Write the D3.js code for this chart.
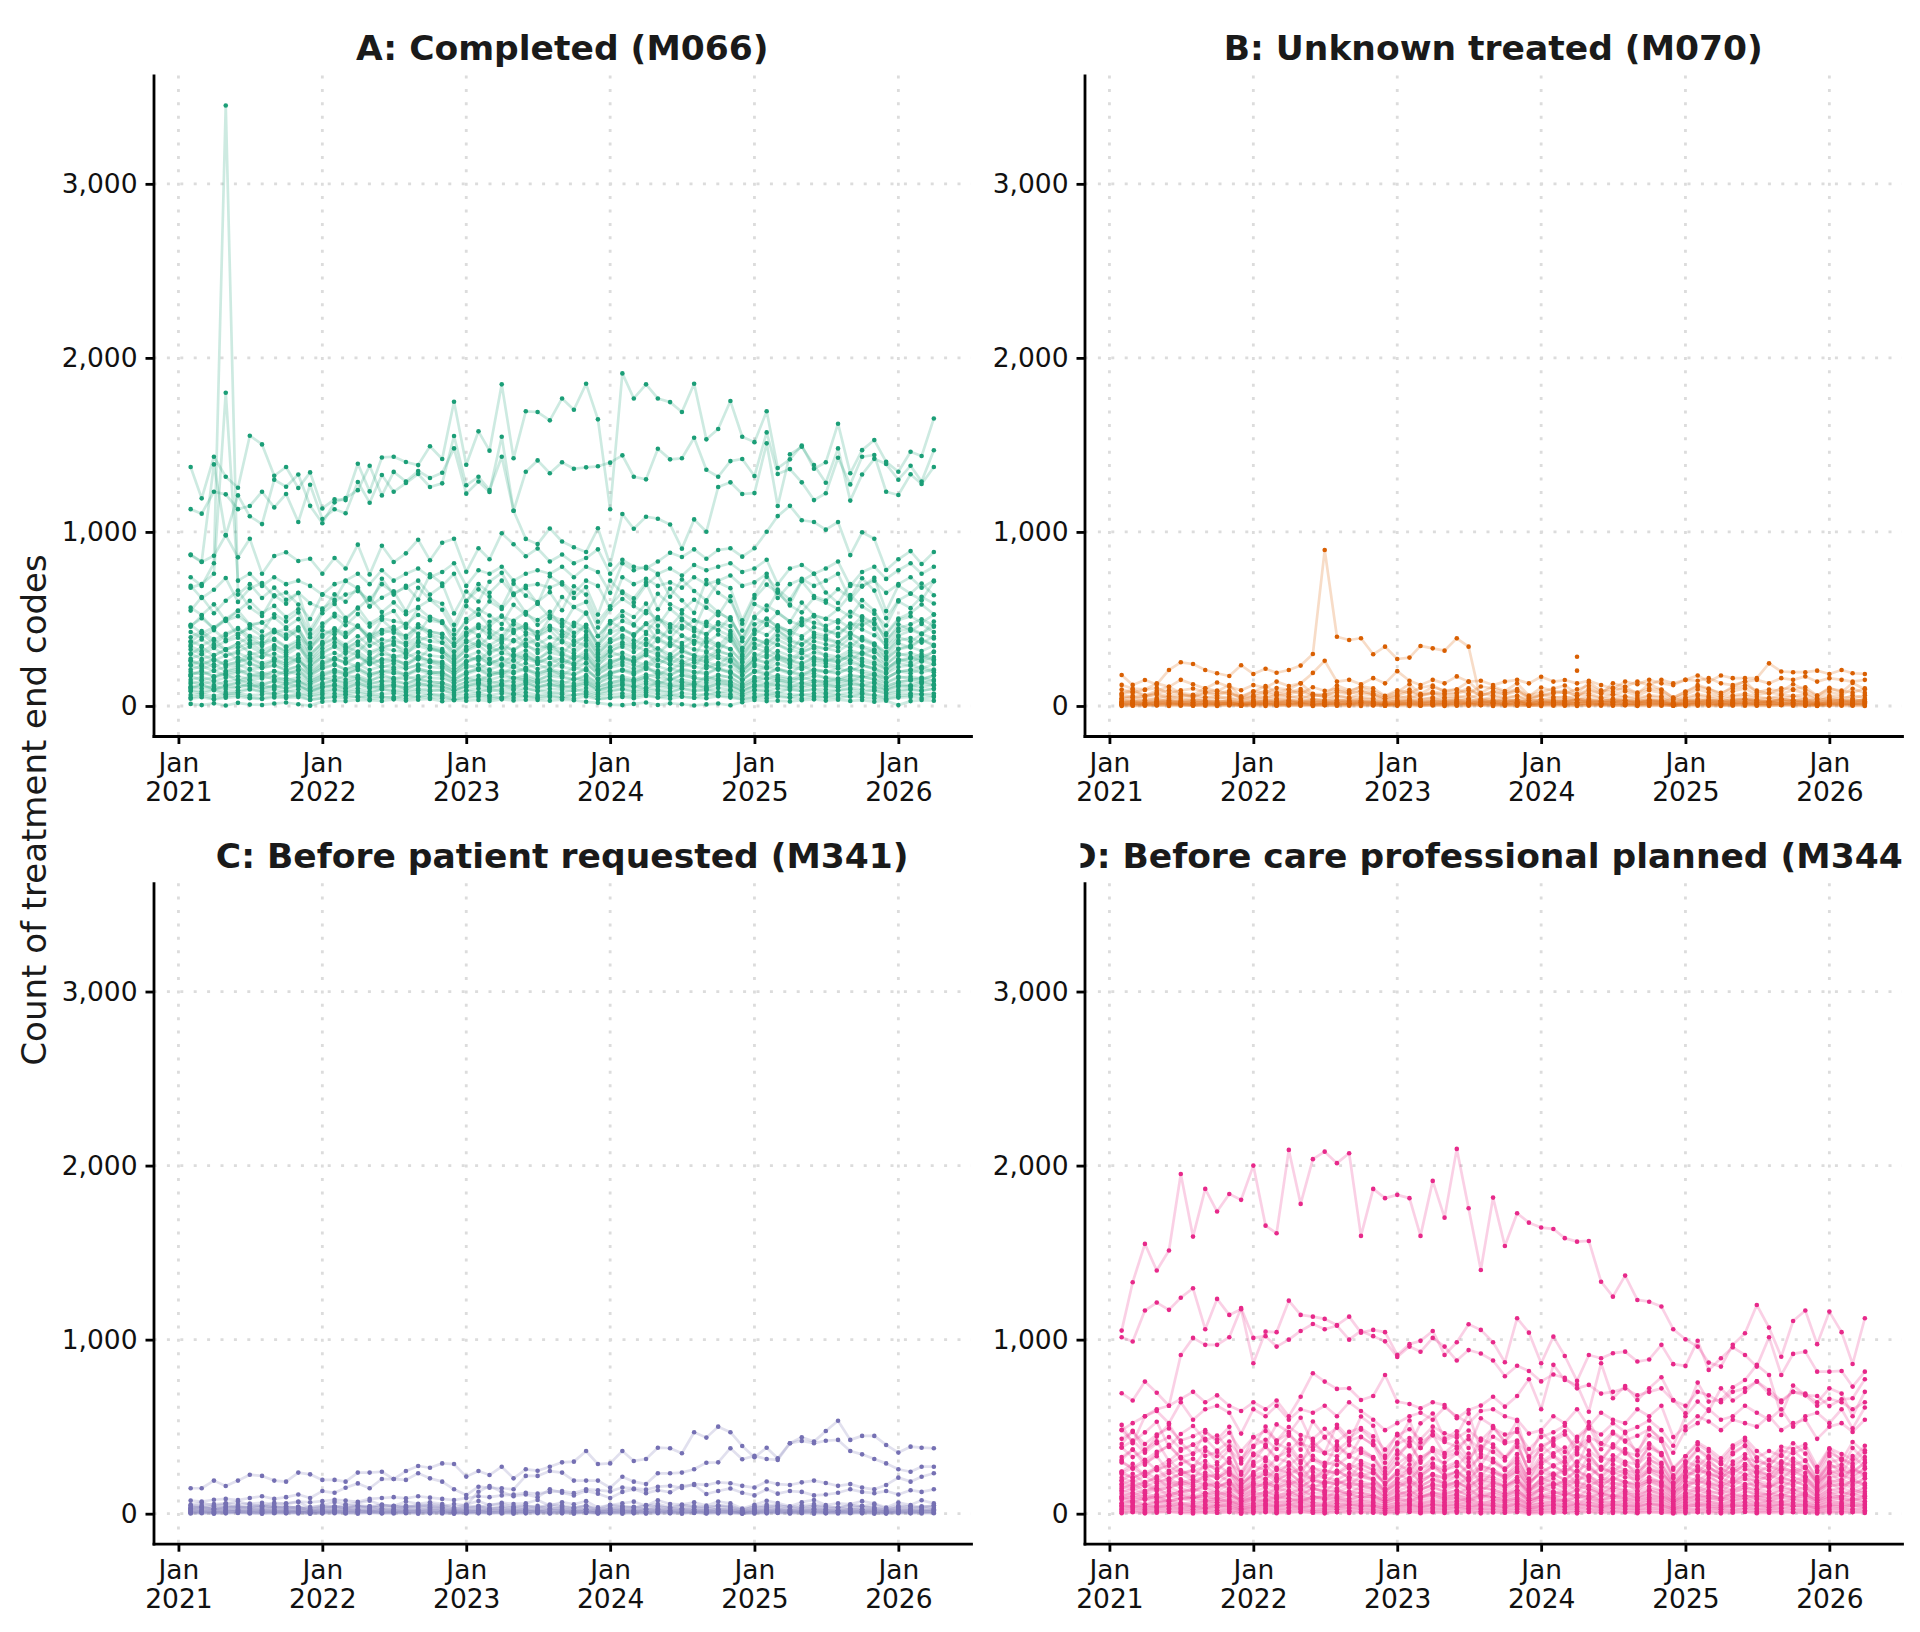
<!DOCTYPE html>
<html>
<head>
<meta charset="utf-8">
<script src="https://cdn.jsdelivr.net/npm/d3@7"></script>
<style>
html,body{margin:0;padding:0;background:#fff;}
svg{display:block;}
</style>
</head>
<body>
<svg id="chart" width="1920" height="1632"></svg>
<script>
// ---------------- categories / ticks ----------------
const months = d3.utcMonths(new Date(Date.UTC(2021,1,1)), new Date(Date.UTC(2026,4,1))); // Feb 2021 .. Apr 2026
const yearTicks = [2021,2022,2023,2024,2025,2026];
const yTickValues = [0,1000,2000,3000];
const panelTitles = {A:"A: Completed (M066)", B:"B: Unknown treated (M070)", C:"C: Before patient requested (M341)", D:"D: Before care professional planned (M344)"};
const yAxisTitle = "Count of treatment end codes";

// ---------------- Panel A : Completed (M066) ----------------
const aTop1 = [1373,1193,1432,1317,1254,1553,1503,1323,1373,1252,1342,1135,1187,1183,1392,1233,1428,1432,1402,1384,1492,1419,1748,1386,1578,1467,1848,1423,1693,1689,1641,1767,1702,1851,1647,1130,1911,1767,1848,1767,1746,1689,1851,1532,1591,1752,1547,1516,1693,1367,1417,1497,1363,1400,1622,1337,1470,1528,1403,1346,1461,1436,1652];
const aTop2 = [1131,1105,1231,1216,1131,1149,1231,1141,1218,1057,1271,1074,1130,1107,1287,1168,1327,1231,1281,1333,1258,1279,1551,1268,1317,1241,1432,1122,1346,1411,1337,1400,1363,1371,1377,1398,1440,1317,1302,1478,1417,1423,1541,1357,1317,1407,1419,1321,1572,1333,1361,1285,1183,1222,1426,1273,1432,1442,1231,1212,1331,1275,1373];
const aTop3 = [870,830,1388,980,1210,1090,1045,1300,1260,1330,1150,1050,1170,1195,1240,1380,1210,1345,1290,1350,1310,1340,1480,1220,1290,1230,1547,1122,960,930,1020,945,912,885,1021,812,1103,1018,1087,1076,1043,904,1072,1001,1258,1285,1218,1223,1509,1149,1446,1489,1384,1283,1480,1180,1330,1420,1390,1300,1380,1290,1469];
const aMid1 = [867,827,863,982,854,961,760,862,883,833,846,760,850,790,927,756,921,827,877,955,837,938,961,771,906,843,992,929,860,905,830,870,820,850,900,760,840,800,790,830,880,856,900,846,896,906,858,906,1001,1091,1150,1067,1057,1013,1057,867,998,961,781,843,890,816,885];
const aSpike = [740,690,820,3450,640,700,620,680,610,650,590,560,600,640,660,610,700,650,680,720,640,690,760,600,700,650,720,640,690,700,680,710,650,720,690,560,740,700,730,690,710,680,740,700,720,750,690,710,760,620,700,730,690,720,760,610,690,720,650,700,740,680,720];
const aHigh = [680,700,760,1800,720,760,690,740,700,720,690,640,700,720,760,700,780,720,760,790,740,770,820,690,780,760,800,720,760,780,760,800,740,800,770,650,820,780,800,760,790,750,810,780,800,820,770,790,840,700,790,810,760,790,830,690,770,800,730,780,820,760,800];
const aM0 = [12,5,15,3,18,8,6,14,20,10,2,25,30,28,35,33,29,38,31,36,40,27,33,30,35,28,38,32,36,34,30,37,33,24,18,8,5,12,20,6,15,10,3,9,14,4,22,35,28,30,26,33,38,31,36,29,34,25,30,5,28,34,30];
const aM1 = [48,60,42,55,63,50,45,58,52,61,35,47,56,64,50,59,54,46,62,51,66,57,38,52,63,55,46,66,58,52,60,49,64,68,41,50,58,53,66,49,62,56,47,70,61,55,40,52,65,59,50,67,57,53,63,55,69,60,43,56,62,68,58];
const aM2 = [85,72,90,66,78,95,81,70,88,76,60,74,92,80,86,71,97,83,77,90,85,93,64,88,79,95,84,72,99,87,80,76,92,85,66,82,96,79,91,86,74,100,83,95,78,89,62,90,84,77,98,86,93,75,88,95,80,91,70,81,94,86,99];
const aM3 = [100,121,95,112,108,130,98,118,104,126,82,109,117,99,132,113,105,124,96,128,119,111,88,116,130,108,121,97,135,112,126,104,118,133,90,107,125,114,102,138,119,110,128,100,131,122,87,113,128,119,106,134,115,124,108,129,120,136,93,118,110,127,121];
const aM4 = [128,145,120,139,152,131,118,147,136,142,102,125,148,138,160,129,143,151,126,157,140,133,108,137,155,142,129,162,147,136,150,124,158,145,112,131,150,143,165,128,157,139,122,169,148,137,109,142,160,151,133,166,145,139,156,141,170,152,115,138,149,163,144];
const aM5 = [171,150,163,182,145,168,175,152,160,141,122,158,149,176,165,139,181,157,170,150,188,173,130,161,146,175,190,158,166,143,184,171,152,168,128,177,159,145,170,186,153,179,162,148,174,166,121,156,183,164,150,176,187,160,145,172,168,181,134,170,158,149,176];
const aM6 = [178,204,170,196,213,181,166,200,188,209,140,176,206,190,219,184,200,211,175,217,196,187,148,193,215,201,182,224,203,191,209,176,220,205,154,184,210,197,228,178,216,195,171,232,208,193,152,199,222,209,186,230,202,194,215,199,234,212,162,195,207,226,204];
const aM7 = [232,214,240,201,225,248,219,236,210,228,170,219,241,208,230,256,222,244,216,233,251,227,180,236,215,247,229,262,220,241,209,257,234,246,185,228,253,236,219,265,240,226,251,232,214,259,178,241,226,270,238,221,255,244,229,262,235,218,190,247,231,258,242];
const aM8 = [236,262,225,255,280,241,220,268,250,274,186,232,270,252,288,243,264,279,230,286,259,247,196,255,283,265,240,296,268,252,276,232,290,271,204,242,278,260,300,236,285,257,226,306,274,255,200,262,294,275,246,303,266,256,284,263,309,280,214,257,273,298,269];
const aM9 = [301,270,292,322,262,297,310,274,286,255,218,281,266,314,295,249,320,280,303,268,331,308,232,288,262,312,335,283,296,257,326,305,271,299,230,315,284,260,304,330,274,318,289,265,310,296,215,279,325,292,268,314,332,285,259,306,300,322,238,303,282,266,313];
const aM10 = [298,338,288,326,358,306,280,344,318,351,236,298,346,324,369,310,337,357,294,367,332,317,252,326,362,340,307,379,343,323,353,297,371,346,261,310,355,333,384,301,364,328,289,391,351,326,256,335,376,352,315,388,341,327,363,336,396,359,273,328,349,381,344];
const aM11 = [372,345,385,322,360,398,352,379,337,366,272,351,386,334,369,410,356,392,347,374,402,364,288,378,345,396,367,420,353,387,336,412,375,394,297,366,405,378,351,425,385,362,402,372,343,415,285,386,362,432,381,354,409,391,367,420,377,349,304,396,370,413,388];
const aM12 = [368,418,356,404,443,378,345,426,392,434,292,367,428,400,456,383,416,441,363,454,410,392,312,403,448,420,380,469,424,399,436,367,459,428,323,383,439,412,474,372,450,405,357,483,434,403,316,414,465,435,389,480,421,404,449,415,490,443,337,405,432,471,425];
const aM13 = [466,418,452,499,406,460,480,424,443,395,338,435,412,487,457,386,496,434,469,415,513,477,360,446,406,484,519,438,459,398,505,473,420,463,356,488,440,403,471,511,425,493,448,411,481,459,333,432,503,453,415,487,515,442,401,474,465,499,369,469,437,412,485];
const aM14 = [455,518,442,501,548,468,428,527,486,537,362,455,530,496,565,474,515,546,450,562,508,486,386,499,555,520,471,581,525,494,541,455,569,530,401,474,544,511,588,461,558,502,443,599,538,499,392,513,577,539,482,594,522,501,556,514,608,549,418,502,535,583,527];
const aM15 = [565,523,584,489,546,604,534,575,511,556,413,533,586,507,560,622,540,595,527,568,610,553,437,574,524,601,557,638,536,588,510,626,569,598,451,556,615,574,533,645,584,550,610,565,521,630,433,586,550,656,578,538,621,594,557,638,572,530,462,601,562,627,589];
const aM16 = [548,626,533,605,663,566,517,636,588,649,438,550,641,599,682,573,622,659,543,679,613,587,466,603,670,628,568,702,634,597,654,550,688,640,484,573,657,618,710,556,674,607,535,724,650,602,473,620,697,651,583,717,631,606,671,621,734,663,505,607,646,704,636];
const aM17 = [690,620,668,735,598,676,706,630,652,583,500,641,610,718,674,571,731,640,690,612,756,703,532,658,600,714,765,646,677,588,745,698,620,683,525,720,649,595,695,754,628,727,661,607,709,677,492,638,742,669,612,719,760,652,592,700,686,736,545,692,645,608,716];
const aM18 = [258,231,266,240,249,272,236,255,228,262,190,244,270,251,226,279,247,262,238,271,255,241,197,252,276,244,268,231,285,259,246,273,238,280,203,249,271,257,236,288,262,245,277,251,233,292,199,265,247,283,258,239,276,262,250,290,254,240,208,268,249,283,260];
const aM19 = [180,196,168,187,201,176,190,171,199,183,142,174,192,181,206,170,195,188,177,204,186,198,150,183,207,175,196,188,211,172,200,186,178,209,155,188,203,180,213,191,176,207,194,183,215,189,148,196,181,214,192,177,208,198,186,219,190,176,156,200,188,213,194];
const aM20 = [342,315,351,326,337,362,320,348,309,355,262,330,364,340,312,375,335,352,322,366,345,327,271,340,371,330,362,315,382,349,333,368,322,377,279,337,366,346,318,388,353,331,373,340,316,392,270,357,334,381,348,323,372,355,338,390,343,324,283,361,336,382,351];
const aM21 = [108,124,99,117,130,111,121,104,128,115,88,112,126,116,135,106,124,119,110,133,118,127,92,117,136,110,125,119,140,108,129,118,112,138,95,120,133,114,141,122,111,136,124,116,143,120,90,125,115,142,122,112,137,127,118,146,121,111,97,129,119,141,124];
const aM22 = [395,430,378,415,448,402,385,438,410,452,330,398,441,420,462,405,436,455,392,470,428,415,345,420,468,440,402,485,446,425,460,398,478,450,355,432,488,462,425,505,470,445,492,460,436,510,372,470,498,455,430,502,478,460,492,448,515,476,380,445,470,498,462];
const aX1 = [42,50,38,47,53,44,40,49,46,51,36,44,50,47,55,41,48,52,43,54,49,45,39,46,53,42,50,47,56,44,51,48,43,55,38,46,52,44,57,49,42,53,47,45,56,48,37,50,45,54,47,43,52,49,46,55,50,44,39,48,52,46,51];
const aX2 = [63,70,58,68,74,61,66,72,60,69,55,64,71,67,76,62,69,73,60,75,68,64,57,66,74,61,72,67,78,63,71,68,62,76,56,66,73,64,79,69,61,74,67,65,77,68,54,70,64,75,67,62,73,69,66,77,71,63,57,68,73,66,72];
const aX3 = [92,84,97,80,90,99,86,94,82,96,72,88,98,85,102,83,95,91,87,100,93,89,76,90,101,84,97,92,104,86,99,93,85,103,74,91,98,88,105,94,83,101,92,89,104,93,71,95,88,102,92,86,99,94,90,104,96,87,75,93,97,90,99];
const aX4 = [110,101,114,97,108,118,103,112,99,115,86,105,117,102,121,100,113,109,104,119,111,106,91,108,120,101,116,110,124,103,118,111,102,123,89,109,117,105,126,112,100,121,110,106,124,111,85,114,105,122,110,103,118,112,107,124,115,104,90,111,116,107,119];
const aX5 = [138,126,143,121,135,148,129,140,124,145,108,132,147,128,152,125,142,137,130,150,139,133,114,136,151,127,146,138,156,129,148,139,128,155,111,137,147,132,158,141,126,152,138,133,156,140,107,143,132,153,138,129,148,141,134,156,144,131,113,139,146,135,150];
const aX6 = [150,166,145,162,171,153,158,168,147,164,130,156,170,152,175,149,165,160,155,172,162,157,135,158,174,150,169,161,178,153,171,162,151,177,132,159,170,154,181,163,149,175,160,156,179,162,128,166,155,176,160,152,171,164,157,179,167,154,134,161,169,157,173];
const aX7 = [196,181,203,175,192,208,184,199,178,205,155,189,207,183,213,180,201,195,186,210,197,190,162,193,211,182,205,196,217,185,209,198,183,216,158,194,207,188,219,200,180,213,197,190,217,199,152,202,188,214,197,184,209,200,191,217,204,187,161,198,206,192,210];
const aX8 = [210,229,202,224,236,213,219,232,205,228,180,216,235,211,241,207,229,222,215,238,224,218,187,220,240,209,234,223,246,212,237,225,210,245,183,221,236,214,249,227,207,242,224,217,247,225,177,230,215,243,222,211,237,228,218,247,232,214,186,224,235,218,240];
const aX9 = [262,241,270,233,256,277,246,266,238,274,206,252,276,244,284,240,268,260,248,280,263,254,215,257,282,243,274,262,290,247,279,265,245,289,211,259,276,251,292,267,240,284,263,254,290,265,202,270,251,286,263,246,279,267,255,290,272,250,215,265,275,256,281];
const aX10 = [272,297,262,290,305,276,284,300,266,295,233,280,304,273,312,268,297,288,278,309,290,282,242,285,311,271,303,289,319,275,307,291,272,318,237,286,305,278,322,294,268,313,290,281,320,292,229,298,279,315,288,274,307,295,283,320,300,277,241,291,304,283,310];
const aX11 = [324,298,333,289,316,341,304,328,294,337,255,311,340,301,350,297,330,320,306,345,325,313,266,317,348,300,338,324,357,305,344,327,303,356,261,320,340,310,360,330,297,350,325,314,357,327,250,333,310,352,325,304,344,330,315,357,335,309,266,327,339,316,346];
const aX12 = [350,382,338,372,392,355,365,386,342,379,300,360,391,352,401,346,382,370,358,397,373,363,311,366,400,349,390,372,410,354,395,374,350,408,305,368,392,357,414,379,345,403,373,362,411,375,295,383,358,405,370,352,395,380,364,411,385,356,310,375,391,364,398];
const aX13 = [425,392,436,380,415,447,400,431,386,442,336,409,446,396,459,390,434,421,403,453,427,412,349,417,457,394,444,426,469,401,452,430,398,467,343,421,447,407,473,434,391,460,428,413,469,430,330,437,408,463,427,400,452,434,414,469,440,406,350,430,445,416,455];
const aX14 = [462,504,446,490,516,468,480,508,452,499,395,474,515,464,528,456,503,488,472,523,491,478,410,482,527,460,513,490,540,466,520,493,461,537,402,485,516,470,545,499,455,531,491,476,541,494,388,505,472,534,487,464,520,500,480,541,507,469,408,494,515,480,524];
const seriesA = [aM0,aX1,aM1,aX2,aM2,aX3,aX4,aM21,aM3,aM4,aX5,aX6,aM5,aM19,aX7,aM6,aX8,aM7,aM18,aX9,aM8,aX10,aM9,aX11,aM10,aM20,aX12,aM11,aM12,aX13,aM22,aM13,aX14,aM14,aM15,aM16,aM17,aSpike,aHigh,aMid1,aTop3,aTop2,aTop1];

// ---------------- Panel B : Unknown treated (M070) ----------------
const bTop1 = [178,121,149,124,207,251,241,207,188,172,234,184,214,191,207,232,299,896,398,379,389,297,341,270,278,345,331,318,389,341,30,25,40,20,35,28,22,30,38,25,32,28,35,22,30,27,40,33,25,30,28,35,42,30,26,38,31,29,36,40,33,28,35];
const bTop2 = [121,100,95,130,110,150,125,100,135,110,90,120,105,140,115,130,190,260,140,150,125,160,130,200,145,120,150,130,170,140,145,120,140,150,130,168,140,149,130,145,120,100,140,125,150,130,120,150,145,160,130,120,140,150,130,160,150,170,140,160,150,140,150];
const bTop3 = [45,60,52,70,58,66,48,75,62,80,40,55,72,60,68,85,57,64,78,70,88,66,42,60,82,58,74,65,70,90,62,78,66,84,45,58,72,80,60,88,70,130,110,140,120,150,130,150,175,140,175,160,160,160,245,198,194,194,203,184,207,188,184];
const bTop4 = [73,95,60,88,110,75,64,102,85,120,50,82,115,78,96,130,70,66,118,90,105,85,55,80,125,70,108,88,95,140,75,112,86,130,60,78,100,118,70,135,90,82,110,72,125,95,48,80,120,100,66,112,140,78,95,86,125,92,58,105,78,132,96];
const bM0 = [0,2,1,3,0,2,4,1,0,3,1,2,0,1,3,2,0,4,1,2,0,3,1,2,0,1,3,0,2,1,4,0,2,1,3,0,2,1,0,3,2,1,4,0,1,2,3,0,1,2,0,3,1,2,0,4,1,2,0,3,1,2,0];
const bM1 = [5,8,4,7,9,6,3,8,5,10,2,6,9,5,7,11,4,6,8,5,9,7,3,6,10,4,8,6,7,12,5,9,6,8,3,5,7,9,4,10,6,5,8,4,9,7,2,6,10,7,4,8,11,5,7,6,9,5,3,8,5,10,6];
const bM2 = [10,15,9,13,17,11,8,14,12,16,6,11,16,10,14,19,9,12,15,11,17,13,7,12,18,9,15,12,14,21,10,16,12,15,7,10,14,17,9,18,12,10,15,9,16,13,5,11,18,14,8,15,20,10,13,12,17,11,6,15,10,18,12];
const bM3 = [20,15,18,23,13,19,22,16,18,12,9,17,14,22,19,13,24,17,21,15,25,20,10,18,14,22,26,16,19,13,24,21,15,20,11,23,17,13,20,25,15,22,18,14,21,19,8,16,23,19,14,21,26,17,13,20,19,23,11,20,17,14,21];
const bM4 = [22,30,19,27,33,24,18,29,25,32,14,21,32,24,28,37,22,19,33,26,30,25,15,24,35,21,30,25,28,39,20,31,24,34,15,21,28,32,20,36,25,23,30,20,33,27,12,23,35,28,18,31,38,22,27,24,33,26,15,29,22,37,27];
const bM5 = [35,28,33,39,25,32,37,29,31,24,18,30,27,38,33,24,40,31,36,28,42,37,20,32,26,38,44,29,34,25,41,37,28,35,19,39,31,26,35,43,28,38,33,27,36,33,16,29,40,34,27,36,42,31,25,37,34,39,21,35,31,26,36];
const bM6 = [40,50,35,46,55,42,33,49,44,53,26,38,53,42,48,60,39,34,55,45,51,44,27,42,58,37,50,44,47,63,36,52,42,57,28,38,47,54,36,60,44,41,51,36,55,46,22,40,58,48,33,52,62,39,46,42,56,45,27,50,39,61,46];
const bM7 = [58,48,55,64,43,54,61,50,53,41,32,51,46,63,56,42,66,52,60,48,70,62,35,54,45,64,73,50,57,43,69,62,48,59,33,65,52,44,58,72,48,64,56,46,61,56,28,50,67,58,46,61,71,53,43,62,58,66,36,59,53,45,61];
const bM8 = [66,82,59,76,90,69,55,80,72,87,44,63,87,69,78,97,64,56,90,74,83,71,45,69,94,61,81,72,77,102,59,85,69,93,47,63,77,88,59,98,72,67,84,59,90,75,38,66,95,78,55,85,101,64,76,69,92,74,45,82,64,99,75];
const bM9 = [95,78,92,104,72,90,100,82,88,68,55,85,76,103,94,70,108,87,99,80,113,102,58,90,75,105,118,83,95,72,112,102,79,97,55,106,86,73,96,116,80,104,92,77,101,92,47,83,110,96,76,101,117,88,71,102,96,108,60,98,88,76,101];
const bM10 = [6,3,7,4,5,8,2,6,4,7,1,5,8,3,6,4,7,5,3,8,6,4,2,5,7,3,6,8,4,5,7,3,6,4,1,5,7,4,6,3,8,5,4,7,3,6,1,5,7,4,6,3,8,5,4,7,6,3,2,5,7,4,6];
const bM11 = [14,17,12,16,19,13,15,18,11,17,9,15,18,13,16,20,14,12,17,15,19,16,10,14,18,12,17,15,20,13,18,16,14,19,10,15,17,13,18,16,12,19,15,14,18,16,9,14,17,15,13,19,16,14,18,13,17,16,10,15,18,13,17];
const bX1 = [9,12,8,11,13,10,7,12,9,14,6,10,13,9,12,11,8,13,10,15,12,9,6,10,14,8,12,10,15,9,13,11,8,14,6,10,13,9,15,12,8,14,11,10,13,11,5,12,10,14,11,8,13,12,10,14,11,9,6,11,13,10,14];
const bX2 = [27,32,24,30,35,26,29,33,23,31,17,27,34,25,36,24,32,30,28,35,31,27,19,29,36,24,33,29,38,26,34,30,25,37,18,28,35,26,39,32,25,36,31,28,37,30,16,32,28,36,30,25,34,31,28,37,32,26,19,30,34,28,35];
const bX3 = [19,23,17,21,25,18,21,24,16,22,12,19,24,18,26,17,23,21,20,25,22,19,13,20,26,17,23,21,27,18,24,21,17,26,13,20,25,18,28,23,18,26,22,20,26,21,11,22,19,25,21,18,24,22,20,26,22,18,13,21,24,20,25];
const seriesB = [bM0,bM10,bM1,bX1,bM2,bM11,bM3,bX3,bM4,bX2,bM5,bM6,bM7,bM8,bM9,bTop4,bTop3,bTop2,bTop1];
const bIsolatedMonth = "2024-04-01";
const bIsolatedValues = [283,203];

// ---------------- Panel C : Before patient requested (M341) ----------------
const cTop1 = [146,146,190,159,190,224,217,190,184,236,226,194,194,184,236,236,241,199,245,274,264,289,285,213,245,222,270,203,255,247,270,295,299,360,285,289,360,303,314,379,376,347,468,437,500,468,389,324,379,318,405,439,414,475,534,424,447,447,395,351,385,379,376];
const cTop2 = [75,70,80,85,78,90,100,85,95,110,90,130,120,149,174,146,199,199,194,232,203,184,140,107,155,149,146,140,217,217,245,236,190,190,190,149,212,184,170,232,232,236,255,293,295,376,313,332,314,309,405,418,405,419,424,360,341,314,289,255,241,270,270];
const cTop3 = [45,50,55,60,52,58,62,55,60,70,65,72,80,75,68,85,90,95,88,100,92,85,78,90,100,95,105,110,120,115,125,130,118,140,135,128,150,145,138,155,160,148,170,165,180,175,160,150,185,170,165,180,190,176,160,170,150,140,165,207,184,212,232];
const cTop4 = [30,35,28,40,33,38,45,36,42,30,38,44,40,35,48,42,50,45,38,52,47,40,55,48,126,159,126,100,110,95,140,120,105,130,115,90,125,140,118,135,123,159,165,113,130,145,120,105,140,115,130,125,105,110,120,140,125,118,130,110,135,125,140];
const cM0 = [1,3,0,2,4,1,0,3,2,1,0,2,3,1,0,4,2,1,3,0,2,1,0,3,2,4,1,0,2,3,1,2,0,4,1,3,0,2,1,3,2,0,4,1,2,3,0,1,2,4,1,3,0,2,1,3,2,0,1,4,2,1,3];
const cM1 = [4,6,3,5,7,4,2,6,5,8,2,4,7,4,6,8,3,5,7,4,6,5,2,4,8,3,6,5,6,9,3,7,5,8,2,4,6,7,3,8,5,4,7,3,8,6,2,5,8,6,3,7,9,4,6,5,7,5,2,6,4,8,5];
const cM2 = [8,11,7,10,13,8,6,11,9,12,5,8,12,9,10,14,7,8,12,9,11,9,5,8,13,7,11,9,10,15,7,12,9,13,5,8,10,12,7,14,9,8,11,7,13,10,4,8,13,10,7,12,14,8,10,9,12,10,5,11,8,13,10];
const cM3 = [14,11,13,16,10,13,15,12,13,10,7,12,11,15,14,10,16,12,15,11,17,15,8,13,11,16,18,12,14,10,17,15,11,14,8,16,13,10,14,17,11,15,13,11,15,14,6,12,16,14,11,15,17,13,10,15,14,16,9,14,13,11,15];
const cM4 = [17,21,15,19,23,17,14,21,18,22,10,16,22,17,20,25,16,15,23,18,21,18,11,17,24,15,21,18,20,26,15,22,18,24,11,16,20,23,15,25,18,17,21,15,23,19,9,17,24,20,14,21,26,16,19,18,23,19,11,21,16,25,19];
const cM5 = [26,21,25,29,19,24,28,22,24,18,14,23,20,28,25,19,30,23,27,21,31,28,15,24,20,29,32,22,26,19,31,28,21,26,14,29,24,20,26,31,21,28,25,21,27,25,12,22,30,26,20,27,31,24,19,28,26,29,16,26,24,20,27];
const cM6 = [30,37,27,34,40,31,25,36,32,39,19,29,39,31,35,43,28,26,40,33,37,32,20,30,42,27,37,32,35,45,27,38,31,41,20,28,35,40,27,44,32,30,37,26,40,34,17,30,42,35,25,37,45,28,34,31,41,33,20,36,28,43,34];
const cM7 = [45,37,43,50,34,42,48,39,41,33,26,40,36,49,44,33,52,41,47,38,54,48,28,42,35,50,56,40,45,34,53,48,37,46,27,51,41,35,45,55,38,50,44,37,48,44,24,39,52,46,36,48,55,41,34,49,45,51,29,46,41,36,48];
const cM8 = [52,64,46,58,70,53,43,62,56,67,34,49,67,54,61,74,50,44,70,57,65,56,35,53,73,48,63,56,60,79,46,66,54,72,36,49,60,69,46,77,56,52,65,46,70,59,30,51,74,61,43,66,79,50,59,54,72,58,35,64,50,77,59];
const cX1 = [6,8,5,7,9,6,7,8,5,8,3,6,9,5,9,6,8,7,6,9,7,6,4,7,9,5,8,7,10,6,8,7,5,9,4,7,9,6,10,8,6,9,7,7,9,7,3,8,6,9,7,6,8,8,7,9,8,6,4,7,8,7,9];
const cX2 = [19,23,17,21,24,18,20,23,16,22,12,19,24,18,25,17,22,21,20,24,22,19,13,20,25,17,23,21,26,18,24,21,17,26,12,20,25,18,27,22,18,25,22,20,26,21,11,22,19,25,21,18,24,22,20,26,22,18,13,21,23,20,25];
const cX3 = [35,41,31,38,44,33,37,42,30,40,22,35,43,32,46,31,41,38,36,45,40,35,24,37,45,31,42,38,48,33,43,39,32,47,23,36,44,34,49,41,32,46,40,37,47,39,20,41,36,46,39,33,43,40,37,47,41,34,24,39,43,37,45];
const seriesC = [cM0,cM1,cX1,cM2,cM3,cM4,cX2,cM5,cM6,cX3,cM7,cM8,cTop4,cTop3,cTop2,cTop1];

// ---------------- Panel D : Before care professional planned (M344) ----------------
const dTop1 = [1052,1330,1550,1397,1512,1952,1592,1866,1736,1837,1803,2000,1655,1611,2090,1780,2037,2080,2014,2071,1596,1866,1813,1832,1813,1596,1912,1701,2096,1755,1400,1816,1538,1726,1672,1644,1636,1583,1563,1567,1333,1247,1368,1228,1218,1190,1060,1002,960,868,845,970,1037,1199,1069,902,1107,1167,974,1161,1043,860,1123];
const dTop2 = [1014,989,1167,1213,1171,1241,1295,1060,1234,1142,1175,864,1046,1043,1224,1142,1132,1119,1084,1132,1040,1056,1043,912,974,993,1050,912,985,1088,1056,985,870,1123,1040,864,1017,906,763,912,893,922,931,874,886,970,859,849,994,826,893,956,912,845,1014,797,918,931,816,816,820,730,816];
const dTop3 = [480,520,560,600,620,912,1010,970,970,1014,1182,1010,1020,960,1000,1050,1090,1060,1080,1000,1050,1020,990,900,960,930,1010,960,880,940,920,880,790,850,820,760,800,780,720,740,690,700,720,680,700,720,650,620,700,680,640,700,720,760,690,640,700,680,620,660,640,600,640];
const dMid1 = [692,650,759,695,620,660,700,640,680,620,590,640,600,650,560,672,807,759,717,721,653,676,797,644,630,606,640,624,548,596,621,672,615,676,772,600,855,768,740,586,864,663,734,653,721,784,653,577,753,644,653,726,768,855,797,567,736,682,676,619,657,663,772];
const dMid2 = [510,405,560,590,520,640,540,600,620,580,460,600,560,620,540,600,580,620,560,640,590,540,480,520,560,580,540,610,560,520,590,600,560,540,460,480,560,520,600,500,580,540,520,600,560,620,440,500,560,530,480,540,520,500,560,480,520,540,430,500,520,470,540];
const dMid3 = [430,470,400,455,490,420,445,480,410,465,360,440,475,420,498,452,430,488,415,470,492,444,368,450,485,428,500,462,436,478,420,492,455,470,372,440,468,505,430,490,455,520,470,498,536,480,390,560,644,590,720,650,700,760,710,650,700,690,640,720,690,560,700];
const dMid4 = [380,420,350,405,440,372,396,430,362,415,318,390,425,372,448,402,380,438,365,420,442,394,320,400,435,378,450,412,386,428,370,442,405,420,330,390,418,455,380,440,405,470,420,448,486,430,350,480,520,600,540,560,620,580,540,600,500,560,580,520,600,490,610];
const dM0 = [3,8,2,6,10,4,1,7,5,9,0,4,8,3,6,11,5,2,9,4,7,6,1,5,10,3,8,4,6,12,2,7,5,9,0,3,6,8,2,10,5,4,7,3,9,6,1,4,8,5,2,7,10,3,6,4,8,5,1,6,3,9,4];
const dM1 = [15,22,12,19,25,16,11,21,18,24,8,14,23,17,20,27,15,12,24,19,22,18,9,16,26,14,21,18,20,29,13,22,17,25,10,15,20,23,14,27,18,16,22,13,24,19,8,17,25,20,12,22,28,15,19,17,24,18,10,21,14,26,19];
const dM2 = [28,38,24,34,42,30,22,37,33,40,18,27,40,31,36,45,29,24,41,33,38,32,19,30,44,27,37,32,35,48,25,39,31,43,20,28,36,40,26,46,33,30,39,25,42,34,17,31,43,36,24,39,47,28,35,31,42,33,21,38,27,45,34];
const dM3 = [44,55,38,50,60,46,36,54,49,58,30,42,58,47,53,64,45,38,59,49,55,48,31,46,62,42,54,48,52,67,40,57,47,61,33,44,53,58,41,65,49,46,57,40,60,51,29,47,62,53,38,57,66,44,52,47,61,50,34,56,43,64,51];
const dM4 = [60,74,53,68,80,63,50,72,66,78,42,58,78,64,71,86,62,52,79,67,74,65,44,63,83,58,73,65,70,89,55,76,64,82,46,60,71,78,56,87,66,62,76,55,81,69,40,64,83,71,52,77,88,60,70,64,82,68,47,75,59,86,69];
const dM5 = [90,76,88,98,72,86,94,79,84,70,56,82,75,96,88,69,99,83,92,78,104,95,62,86,73,97,108,81,89,71,103,94,77,91,60,99,84,74,93,106,78,97,87,76,95,88,55,80,102,89,77,94,106,86,73,96,92,101,64,93,84,77,97];
const dM6 = [100,122,90,112,130,104,86,118,108,126,72,96,127,106,117,140,101,88,130,110,122,106,74,104,136,96,120,107,115,146,91,125,105,135,77,99,117,128,92,142,109,103,125,91,133,113,68,105,136,117,86,126,144,99,115,105,134,112,78,123,97,140,114];
const dM7 = [134,114,130,146,106,128,140,117,125,103,84,122,111,143,131,102,148,123,137,116,155,141,92,128,108,144,160,120,132,105,153,140,114,135,89,147,125,110,138,157,116,144,129,113,141,131,82,119,151,132,114,140,158,128,108,143,137,150,95,138,125,114,144];
const dM8 = [144,172,130,160,185,148,124,168,154,180,104,138,181,151,167,199,144,126,185,157,174,151,106,148,194,137,171,152,164,208,130,178,150,192,110,141,166,182,131,202,155,146,178,130,189,161,97,150,194,167,123,180,205,141,164,150,191,160,111,175,138,199,162];
const dM9 = [188,160,182,205,149,179,196,164,175,144,118,171,155,200,183,143,207,172,192,162,217,197,129,179,151,202,224,168,185,147,214,196,160,189,125,206,175,154,193,220,162,202,181,158,197,183,115,167,211,185,160,196,221,179,151,200,192,210,133,193,175,160,202];
const dM10 = [192,229,174,213,246,197,165,224,205,240,139,184,241,201,222,265,192,168,246,209,232,201,141,197,258,182,228,202,218,277,173,237,200,256,146,188,221,242,174,269,206,194,237,173,252,214,129,200,258,222,164,240,273,188,218,200,254,213,148,233,184,265,216];
const dM11 = [242,206,234,264,192,230,252,211,225,185,152,220,199,257,235,184,266,221,247,208,279,253,166,230,194,260,288,216,238,189,275,252,206,243,161,265,225,198,248,283,208,260,233,203,253,235,148,215,271,238,206,252,284,230,194,257,247,270,171,248,225,205,259];
const dM12 = [240,286,218,266,307,246,206,280,256,300,174,230,301,251,277,331,240,210,307,261,290,251,176,246,322,227,285,252,272,346,216,296,250,320,182,235,276,302,217,336,257,242,296,216,315,267,161,250,322,277,205,300,341,235,272,250,317,266,185,291,230,331,270];
const dM13 = [302,258,292,330,240,287,315,264,281,231,190,275,249,321,294,230,332,276,309,260,349,316,208,287,243,325,360,270,297,236,343,315,257,304,201,320,272,240,300,342,252,314,282,246,306,284,179,240,300,265,230,282,318,259,220,292,280,306,194,281,256,233,294];
const dM14 = [310,369,281,343,396,317,266,361,330,387,224,297,388,324,357,427,310,271,396,337,374,324,227,317,415,293,367,325,351,446,279,382,322,413,235,296,347,380,273,423,323,305,372,272,396,336,203,285,366,316,234,342,389,268,310,285,361,303,211,332,262,377,308];
const dM15 = [380,325,368,416,302,361,397,332,354,291,239,346,313,404,370,290,418,348,389,327,440,398,262,362,306,409,454,340,374,297,432,397,324,383,253,392,334,295,368,420,309,385,346,302,376,349,220,300,372,329,284,351,393,321,272,362,347,379,240,348,317,289,364];
const dM16 = [400,476,363,443,511,409,343,466,426,499,289,383,500,418,461,551,400,350,511,435,483,418,293,409,535,378,474,419,453,575,360,493,416,533,303,368,432,473,340,527,402,380,463,339,493,418,253,330,398,357,298,378,420,322,360,331,405,345,250,370,305,412,352];
const dM17 = [482,412,467,528,383,458,504,421,449,369,303,439,397,513,469,368,530,441,493,415,558,505,332,459,388,519,576,431,474,377,548,503,411,486,321,470,400,354,441,503,370,461,414,362,450,418,264,330,410,372,318,392,436,360,306,384,372,398,270,376,343,312,390];
const dM18 = [96,88,104,81,99,110,92,101,86,108,70,94,105,89,112,97,84,108,99,115,93,102,74,98,110,91,117,95,104,88,112,100,93,118,76,101,95,112,104,90,118,99,107,93,113,100,72,95,108,101,87,112,97,104,92,110,98,115,76,102,96,109,100];
const dM19 = [168,152,177,145,171,185,158,174,149,181,126,162,179,154,188,166,147,183,170,193,160,175,130,168,188,157,196,164,178,151,190,172,160,197,134,173,164,190,178,155,198,170,183,160,192,172,125,162,184,172,150,190,166,178,158,188,168,195,132,174,164,186,171];
const dM20 = [38,45,33,42,48,36,44,31,47,40,25,37,46,39,50,34,43,48,36,52,41,45,27,39,49,35,51,42,46,33,50,44,37,53,28,41,47,38,52,44,36,50,43,39,54,45,26,40,51,44,35,49,42,47,37,52,43,50,29,45,40,48,44];
const dM21 = [228,207,240,198,232,251,214,236,203,246,170,220,243,209,255,225,199,248,231,262,217,238,176,228,255,213,266,222,241,205,258,234,217,268,182,235,222,258,242,210,269,231,248,217,261,233,170,218,248,232,202,256,224,240,213,254,227,263,178,235,221,251,231];
const dX1 = [9,12,7,11,13,8,10,12,6,11,5,9,13,8,12,10,7,12,9,14,11,8,6,10,13,7,12,9,14,8,12,10,7,13,5,9,12,8,14,11,7,13,10,9,12,8,5,11,9,13,10,7,12,11,9,13,10,8,6,11,12,9,13];
const dX2 = [24,29,21,27,31,23,26,30,20,28,15,24,30,22,32,25,20,29,26,33,27,23,17,25,32,21,30,26,34,22,31,27,21,33,16,25,31,23,35,28,22,33,27,25,32,26,14,28,24,32,26,21,30,28,25,33,27,22,17,27,30,24,32];
const dX3 = [47,40,51,38,46,54,42,49,37,52,29,45,53,41,56,39,50,47,44,55,49,43,31,46,55,40,52,47,58,41,53,48,40,57,30,45,54,42,59,50,40,56,48,45,57,47,27,50,44,56,47,39,53,50,45,57,49,41,31,48,53,44,55];
const dX4 = [58,66,53,63,69,57,61,67,52,65,40,59,68,55,71,54,65,62,58,70,63,57,42,60,70,54,67,61,73,56,68,62,54,72,41,59,69,56,74,64,54,71,62,59,72,61,37,64,58,71,61,53,68,64,59,72,63,55,42,62,67,58,70];
const dX5 = [78,69,83,66,76,86,72,80,64,84,50,75,85,70,89,67,82,78,73,88,80,73,53,76,88,69,84,78,91,71,86,79,69,90,52,75,87,72,93,81,69,89,79,75,90,78,47,81,74,89,78,68,86,81,75,90,80,70,53,79,85,74,88];
const dX6 = [87,99,80,95,104,86,92,101,78,98,61,89,103,83,107,81,98,93,88,106,95,86,64,90,106,82,101,92,110,85,103,94,82,108,62,89,104,86,112,97,82,107,94,89,108,93,56,97,88,106,93,81,103,97,89,108,96,84,64,94,101,88,105];
const dX7 = [114,101,120,96,111,126,105,117,94,123,74,110,124,102,130,98,120,114,107,128,117,106,78,111,129,100,123,113,134,104,125,115,100,132,76,109,127,105,136,118,100,130,115,109,132,113,68,118,107,129,113,99,125,118,109,132,117,102,78,115,123,107,128];
const dX8 = [126,142,117,137,149,125,133,146,113,141,88,129,148,120,154,117,141,134,127,152,137,125,93,131,153,118,145,133,159,123,148,136,118,156,90,129,150,124,161,140,118,154,136,129,156,134,80,139,126,153,134,117,148,140,129,156,138,121,92,136,146,127,151];
const dX9 = [155,137,163,131,151,171,143,159,128,167,101,149,169,139,177,134,163,155,146,174,159,144,107,151,176,136,167,154,182,141,170,157,136,180,104,149,173,143,185,161,136,177,157,149,180,154,93,160,145,176,154,135,170,161,149,180,159,140,106,157,168,146,174];
const dX10 = [170,192,158,185,201,168,179,197,152,190,118,174,199,162,207,157,190,180,171,204,185,168,125,177,206,159,195,180,213,165,199,183,159,210,121,174,202,167,216,188,158,207,183,173,209,179,108,187,169,205,180,158,199,188,174,210,186,163,124,183,196,171,203];
const dX11 = [207,183,218,175,202,229,191,213,171,224,135,199,227,185,236,180,218,206,195,233,213,193,143,202,235,182,223,206,243,189,228,210,182,240,139,199,231,191,246,215,181,236,209,198,239,205,124,210,190,230,202,178,224,211,196,236,209,183,139,206,220,192,228];
const dX12 = [233,262,218,253,275,231,246,270,210,260,162,239,273,222,283,216,261,247,235,280,256,232,172,243,282,218,268,247,292,227,274,252,218,288,167,239,277,229,295,258,217,283,251,238,287,246,149,240,218,262,230,204,255,241,224,269,239,209,159,235,251,219,260];
const dX13 = [294,262,310,250,287,325,272,303,244,318,193,284,322,264,335,257,310,293,279,331,303,275,204,288,334,259,317,293,346,270,325,299,259,342,198,284,329,272,350,306,258,336,298,283,340,292,177,268,243,293,257,228,285,269,250,301,267,233,178,263,281,245,291];
const dX14 = [325,368,306,356,387,324,346,380,295,366,228,336,384,312,398,303,367,347,330,394,360,326,242,342,397,306,377,348,411,319,386,355,306,405,235,336,390,322,415,363,305,398,353,335,404,346,210,300,272,328,288,255,319,301,280,337,299,261,199,294,315,274,326];
const seriesD = [dM0,dX1,dM1,dX2,dM2,dM20,dX3,dM3,dX4,dM4,dX5,dM5,dX6,dM18,dM6,dX7,dM7,dX8,dM8,dX9,dM19,dX10,dM9,dM10,dX11,dM21,dM11,dX12,dM12,dX13,dM13,dM14,dX14,dM15,dM16,dM17,dMid4,dMid3,dMid2,dMid1,dTop3,dTop2,dTop1];

// ---------------- drawing ----------------
const FONT = "'DejaVu Sans', 'Liberation Sans', sans-serif";
const svg = d3.select("#chart");
svg.append("rect").attr("width",1920).attr("height",1632).attr("fill","#fff");

const panels = [
  {id:"A", series:seriesA, color:"#1b9e77", x0:153.5, x1:971,  y0:75.5,  y1:736},
  {id:"B", series:seriesB, color:"#d95f02", x0:1084.5, x1:1902, y0:75.5,  y1:736},
  {id:"C", series:seriesC, color:"#7570b3", x0:153.5, x1:971,  y0:883.2, y1:1543.7},
  {id:"D", series:seriesD, color:"#e7298a", x0:1084.5, x1:1902, y0:883.2, y1:1543.7}
];

const allValues = [seriesA,seriesB,seriesC,seriesD].flat(2).concat(bIsolatedValues).filter(v => v != null);
const yMax = d3.max(allValues), yMin = d3.min(allValues);
const yPad = (yMax - yMin) * 0.05;
const tFirst = months[0], tLast = months[months.length - 1];
const tPad = (tLast - tFirst) * 0.05;
const yearDates = yearTicks.map(yr => new Date(Date.UTC(yr,0,1)));

panels.forEach(p => {
  const x = d3.scaleUtc().domain([new Date(+tFirst - tPad), new Date(+tLast + tPad)]).range([p.x0, p.x1]);
  const y = d3.scaleLinear().domain([yMin - yPad, yMax + yPad]).range([p.y1, p.y0]);
  const g = svg.append("g").attr("class","panel-"+p.id);

  // grid
  const grid = g.append("g").attr("stroke","#dcdcdc").attr("stroke-width",2.8).attr("stroke-dasharray","3,10.4").attr("fill","none");
  grid.selectAll("line.h").data(yTickValues).join("line").attr("class","h")
    .attr("x1",p.x0).attr("x2",p.x1).attr("y1",d=>y(d)).attr("y2",d=>y(d));
  grid.selectAll("line.v").data(yearDates).join("line").attr("class","v")
    .attr("x1",d=>x(d)).attr("x2",d=>x(d)).attr("y1",p.y0).attr("y2",p.y1);

  // lines
  const line = d3.line().defined(d => d != null).x((d,i) => x(months[i])).y(d => y(d));
  g.append("g").attr("fill","none").attr("stroke",p.color).attr("stroke-opacity",0.22)
    .attr("stroke-width",2.7).attr("stroke-linejoin","round")
    .selectAll("path").data(p.series).join("path").attr("d", line);

  // points
  const pts = [];
  p.series.forEach(s => s.forEach((v,i) => { if (v != null) pts.push({t: months[i], v}); }));
  if (p.id === "B") bIsolatedValues.forEach(v => pts.push({t: new Date(bIsolatedMonth + "T00:00:00Z"), v}));
  g.append("g").attr("fill",p.color)
    .selectAll("circle").data(pts).join("circle")
    .attr("cx", d => x(d.t)).attr("cy", d => y(d.v)).attr("r", 2.3);

  // y axis
  const gy = g.append("g").attr("transform",`translate(${p.x0},0)`)
    .call(d3.axisLeft(y).tickValues(yTickValues).tickFormat(d3.format(",")).tickSize(8).tickSizeOuter(0).tickPadding(8));
  gy.attr("font-family",FONT).attr("font-size",26.5);
  gy.select(".domain").attr("stroke","#000").attr("stroke-width",2.8).attr("stroke-linecap","square");
  gy.selectAll(".tick line").attr("stroke","#000").attr("stroke-width",2.8);
  gy.selectAll(".tick text").attr("fill","#111");

  // x axis
  const gx = g.append("g").attr("transform",`translate(0,${p.y1})`)
    .call(d3.axisBottom(x).tickValues(yearDates).tickSize(8).tickSizeOuter(0).tickPadding(8));
  gx.attr("font-family",FONT).attr("font-size",26.5);
  gx.select(".domain").attr("stroke","#000").attr("stroke-width",2.8).attr("stroke-linecap","square");
  gx.selectAll(".tick line").attr("stroke","#000").attr("stroke-width",2.8);
  gx.selectAll(".tick text").attr("fill","#111").attr("dy",null).attr("y",null).text(null)
    .each(function(d){
      const t = d3.select(this);
      t.append("tspan").attr("x",0).attr("y",35.5).text("Jan");
      t.append("tspan").attr("x",0).attr("y",64.5).text(d.getUTCFullYear());
    });

  // title (clipped to panel width)
  svg.append("clipPath").attr("id","clip"+p.id).append("rect")
    .attr("x",p.x0-4).attr("y",0).attr("width",p.x1-p.x0+4).attr("height",1632);
  svg.append("text").attr("clip-path",`url(#clip${p.id})`)
    .attr("x",(p.x0+p.x1)/2).attr("y",p.y0-15.6)
    .attr("text-anchor","middle").attr("font-family",FONT).attr("font-weight","bold")
    .attr("font-size",34.5).attr("fill","#1a1a1a").text(panelTitles[p.id]);
});

// shared y-axis title
svg.append("text").attr("transform","translate(46,810) rotate(-90)")
  .attr("text-anchor","middle").attr("font-family",FONT).attr("font-size",34)
  .attr("fill","#1a1a1a").text(yAxisTitle);
</script>
</body>
</html>
